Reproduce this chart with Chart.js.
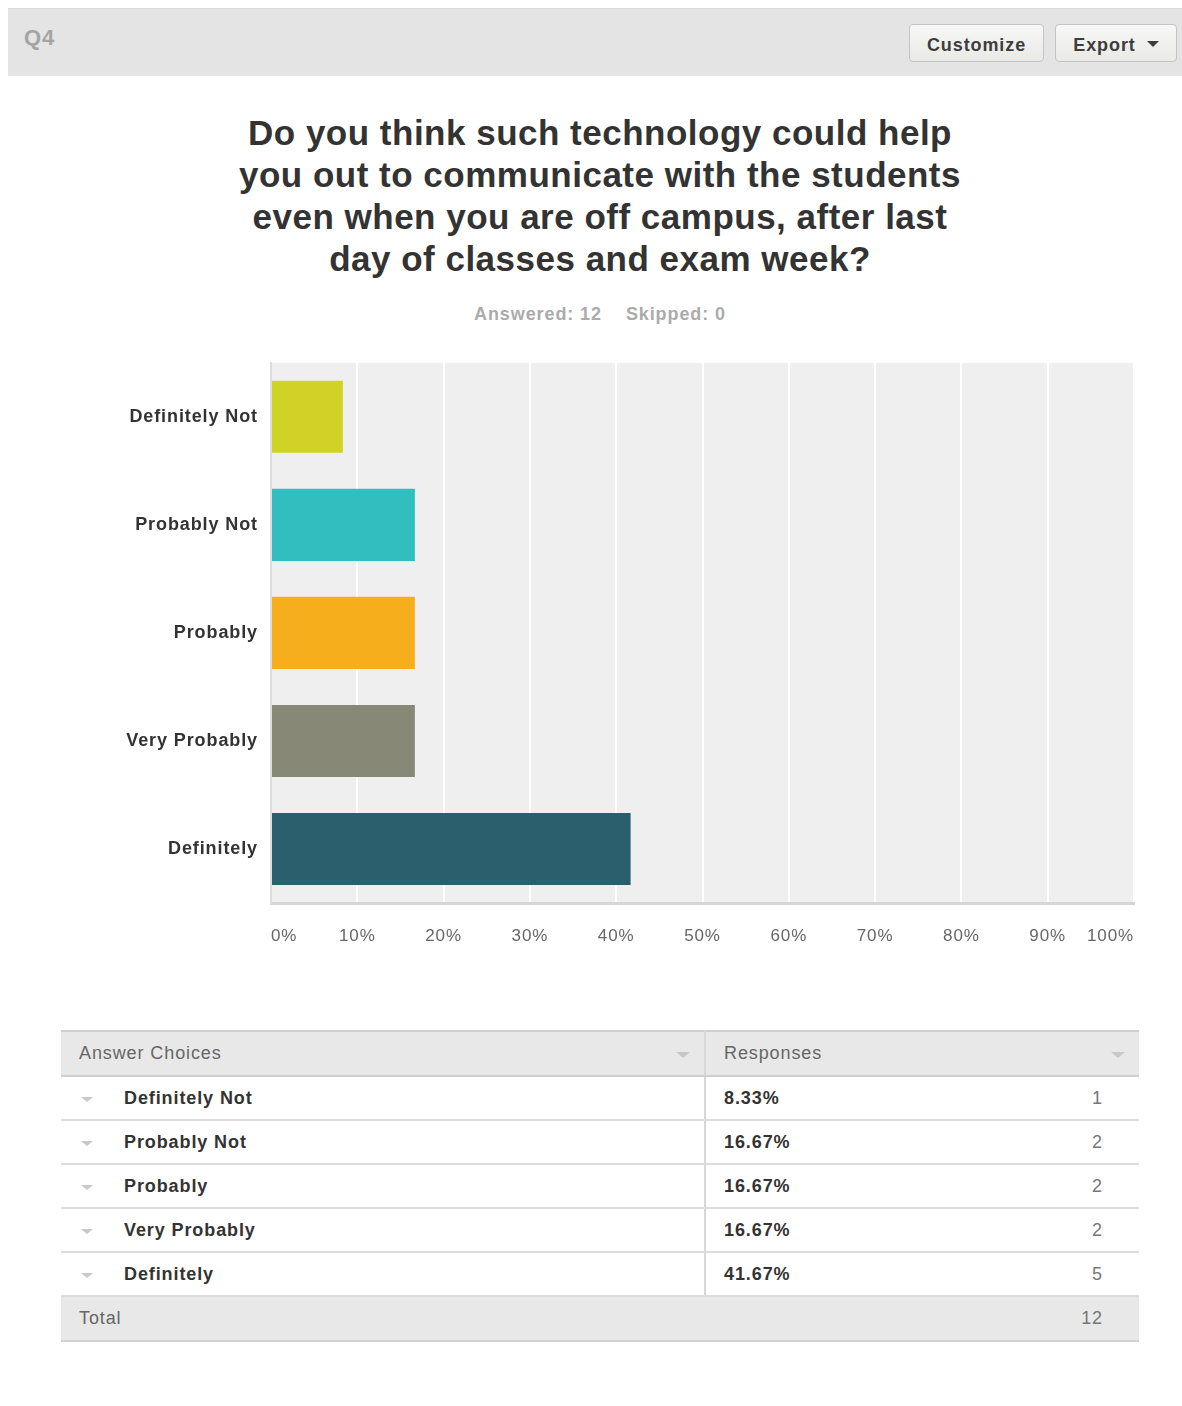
<!DOCTYPE html>
<html>
<head>
<meta charset="utf-8">
<script src="https://cdn.jsdelivr.net/npm/chart.js@4"></script>
<style>
  body { margin: 0; background: #fff; font-family: "Liberation Sans", Arial, sans-serif; }
  #page { position: relative; width: 1182px; height: 1406px; }
  #bar { position: absolute; left: 8px; top: 8px; width: 1174px; height: 68px; background: #e4e4e4; border-top: 1px solid #dadada; box-sizing: border-box; }
  #qnum { position: absolute; left: 16px; top: 16px; font-size: 22px; font-weight: bold; color: #a4a4a4; letter-spacing: 1px; }
  .btn { position: absolute; top: 15px; height: 38px; box-sizing: border-box; border: 1px solid #c4c4c4; border-radius: 4px;
         background: linear-gradient(#f7f7f5, #e9e9e6); font-size: 18px; font-weight: bold; color: #3d3d3d; line-height: 40px; text-align: center; letter-spacing: 0.9px; }
  #custom { left: 901px; width: 135px; }
  #export { left: 1047px; width: 122px; }
  .tri { display: inline-block; width: 0; height: 0; margin-left: 11px; vertical-align: middle; position: relative; top: -2px;
         border-left: 6px solid transparent; border-right: 6px solid transparent; border-top: 6px solid #3d3d3d; }
  #title { position: absolute; left: 0; width: 1200px; top: 112px; text-align: center; font-size: 35px; font-weight: bold; color: #333; line-height: 42px; letter-spacing: 0.5px; }
  #stats { position: absolute; left: 0; width: 1200px; top: 304px; text-align: center; font-size: 18px; font-weight: bold; color: #ababab; letter-spacing: 0.9px; }
  #stats span { margin: 0 12px; }
  #chartBox { position: absolute; left: 0; top: 347px; width: 1182px; height: 623px; }
  table { position: absolute; left: 61px; top: 1030px; width: 1078px; border-collapse: collapse; font-size: 18px; letter-spacing: 0.9px; }
  td { height: 42px; border-bottom: 2px solid #dcdcdc; padding: 0; }
  tr.head td, tr.total td { background: #e8e8e8; color: #666; font-weight: normal; }
  tr.head td { border-top: 2px solid #d0d0d0; border-bottom: 2px solid #d0d0d0; height: 43px; }
  tr.total td { border-bottom: 2px solid #d0d0d0; height: 43px; }
  td.c1 { width: 643px; border-right: 2px solid #d8d8d8; position: relative; }
  tr.total td.c1 { border-right: none; }
  .lbl { position: absolute; left: 63px; top: 11px; font-weight: bold; color: #333; }
  .caret { position: absolute; left: 20px; top: 20px; width: 0; height: 0; border-left: 6px solid transparent; border-right: 6px solid transparent; border-top: 5px solid #c8c8c8; }
  .hcaret { position: absolute; top: 20px; width: 0; height: 0; border-left: 7px solid transparent; border-right: 7px solid transparent; border-top: 6px solid #c8c8c8; }
  td.c2 { position: relative; }
  .pct { position: absolute; left: 18px; top: 11px; font-weight: bold; color: #333; }
  .cnt { position: absolute; right: 36px; top: 11px; color: #777; }
  .htxt { position: absolute; left: 18px; top: 11px; color: #666; }
</style>
</head>
<body>
<div id="page">
  <div id="bar">
    <div id="qnum">Q4</div>
    <div class="btn" id="custom">Customize</div>
    <div class="btn" id="export">Export<span class="tri"></span></div>
  </div>
  <div id="title">Do you think such technology could help<br>you out to communicate with the students<br>even when you are off campus, after last<br>day of classes and exam week?</div>
  <div id="stats"><span>Answered: 12</span><span>Skipped: 0</span></div>
  <div id="chartBox"><canvas id="q4chart"></canvas></div>
  <table id="tbl"></table>
</div>
<script>
// answer choices and results
var choices = ["Definitely Not", "Probably Not", "Probably", "Very Probably", "Definitely"];
var percents = [8.33, 16.67, 16.67, 16.67, 41.67];
var counts = [1, 2, 2, 2, 5];
var barColors = ["#d0d326", "#32bdbe", "#f7ae1d", "#888877", "#2c5f6d"];
var xTicks = [0, 10, 20, 30, 40, 50, 60, 70, 80, 90, 100];

// grey plot background behind the bars, plus a bit of letter spacing for the labels
var plotBg = {
  id: 'plotBg',
  beforeUpdate: function(chart) { chart.ctx.letterSpacing = '0.9px'; },
  beforeDraw: function(chart) {
    var a = chart.chartArea, c = chart.ctx;
    c.letterSpacing = '0.9px';
    c.save();
    c.fillStyle = '#efefef';
    c.fillRect(a.left, a.top, a.right - a.left, a.bottom - a.top);
    c.restore();
  }
};

new Chart(document.getElementById('q4chart'), {
  type: 'bar',
  data: {
    labels: choices,
    datasets: [{
      data: percents,
      backgroundColor: barColors,
      categoryPercentage: 1,
      barPercentage: 0.667
    }]
  },
  options: {
    indexAxis: 'y',
    responsive: true,
    maintainAspectRatio: false,
    animation: false,
    layout: { padding: { top: 3, right: 48, left: 0, bottom: 0 } },
    plugins: { legend: { display: false }, tooltip: { enabled: false } },
    scales: {
      x: {
        min: 0, max: 100,
        afterBuildTicks: function(axis) { axis.ticks = xTicks.map(function(v) { return { value: v }; }); },
        afterFit: function(axis) { axis.height = 67; },
        grid: {
          color: function(ctx) { return ctx.tick && ctx.tick.value === 0 ? 'rgba(0,0,0,0)' : '#ffffff'; },
          lineWidth: 2,
          drawTicks: false
        },
        border: { color: '#d6d6d6', width: 3 },
        ticks: {
          align: 'inner',
          padding: 23,
          color: '#666',
          font: { family: '"Liberation Sans", Arial, sans-serif', size: 17 },
          callback: function(v) { return v + '%'; }
        }
      },
      y: {
        afterFit: function(axis) { axis.width = 271; },
        grid: { display: false },
        border: { color: '#dddddd', width: 2 },
        ticks: {
          padding: 5,
          color: '#333',
          font: { family: '"Liberation Sans", Arial, sans-serif', size: 18, weight: 'bold' }
        }
      }
    }
  },
  plugins: [plotBg]
});

// results table under the chart
var tbl = document.getElementById('tbl');
var html = '<tr class="head"><td class="c1"><span class="htxt">Answer Choices</span><span class="hcaret" style="left:615px"></span></td>' +
           '<td class="c2"><span class="htxt">Responses</span><span class="hcaret" style="right:14px"></span></td></tr>';
var total = 0;
for (var i = 0; i < choices.length; i++) {
  total += counts[i];
  html += '<tr><td class="c1"><span class="caret"></span><span class="lbl">' + choices[i] + '</span></td>' +
          '<td class="c2"><span class="pct">' + percents[i].toFixed(2) + '%</span><span class="cnt">' + counts[i] + '</span></td></tr>';
}
html += '<tr class="total"><td class="c1"><span class="htxt">Total</span></td><td class="c2"><span class="cnt">' + total + '</span></td></tr>';
tbl.innerHTML = html;
</script>
</body>
</html>
